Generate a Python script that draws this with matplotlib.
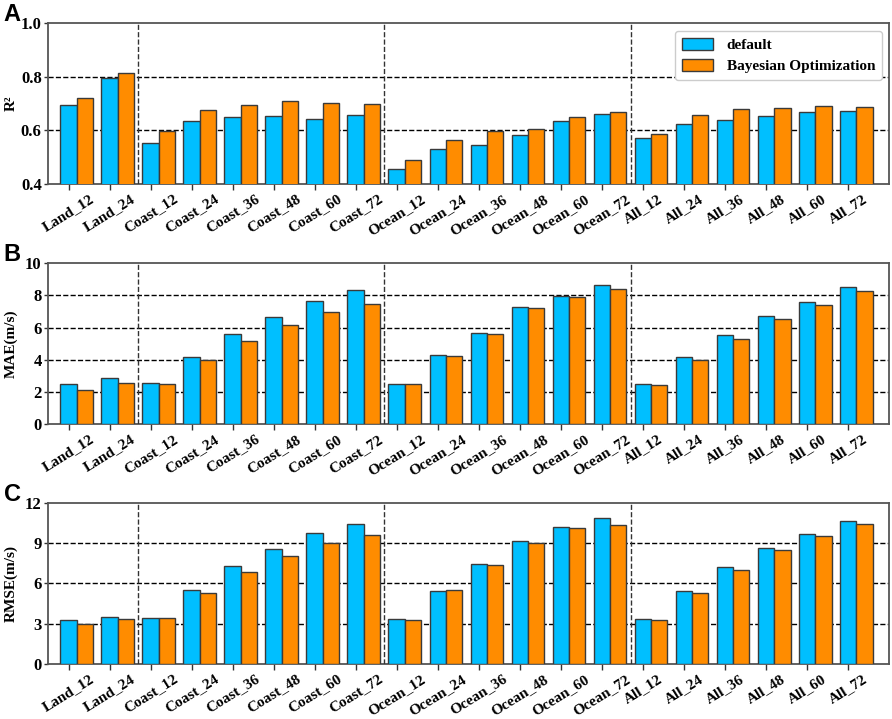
import matplotlib
matplotlib.use("Agg")
import matplotlib.pyplot as plt
import numpy as np

categories = ["Land_12", "Land_24",
              "Coast_12", "Coast_24", "Coast_36", "Coast_48", "Coast_60", "Coast_72",
              "Ocean_12", "Ocean_24", "Ocean_36", "Ocean_48", "Ocean_60", "Ocean_72",
              "All_12", "All_24", "All_36", "All_48", "All_60", "All_72"]

r2_default = [0.693, 0.796, 0.553, 0.635, 0.649, 0.654, 0.644, 0.658,
              0.457, 0.532, 0.547, 0.581, 0.634, 0.661,
              0.571, 0.622, 0.638, 0.652, 0.669, 0.673]
r2_bayes = [0.722, 0.815, 0.598, 0.675, 0.696, 0.708, 0.701, 0.700,
            0.490, 0.566, 0.599, 0.604, 0.651, 0.669,
            0.586, 0.658, 0.679, 0.683, 0.692, 0.686]

mae_default = [2.47, 2.84, 2.53, 4.15, 5.58, 6.68, 7.63, 8.32,
               2.51, 4.27, 5.64, 7.26, 7.97, 8.63,
               2.47, 4.15, 5.54, 6.74, 7.61, 8.49]
mae_bayes = [2.10, 2.55, 2.52, 3.98, 5.19, 6.14, 6.95, 7.49,
             2.49, 4.25, 5.58, 7.20, 7.90, 8.42,
             2.45, 3.98, 5.27, 6.51, 7.41, 8.24]

rmse_default = [3.31, 3.48, 3.46, 5.50, 7.29, 8.58, 9.73, 10.42,
                3.33, 5.47, 7.44, 9.15, 10.22, 10.85,
                3.38, 5.47, 7.26, 8.66, 9.65, 10.65]
rmse_bayes = [2.97, 3.33, 3.46, 5.30, 6.87, 8.03, 9.03, 9.58,
              3.26, 5.50, 7.39, 9.03, 10.10, 10.32,
              3.28, 5.27, 6.97, 8.46, 9.55, 10.42]

series_names = ["default", "Bayesian Optimization"]
group_bounds = [1.7, 7.7, 13.7]

panels = [
    ("A", "R²", r2_default, r2_bayes, (0.4, 1.0), [0.4, 0.6, 0.8, 1.0], ["0.4", "0.6", "0.8", "1.0"]),
    ("B", "MAE(m/s)", mae_default, mae_bayes, (0, 10), [0, 2, 4, 6, 8, 10], ["0", "2", "4", "6", "8", "10"]),
    ("C", "RMSE(m/s)", rmse_default, rmse_bayes, (0, 12), [0, 3, 6, 9, 12], ["0", "3", "6", "9", "12"]),
]

serif = ["Liberation Serif", "DejaVu Serif"]
blue = "#00BFFF"
orange = "#FF8C00"
edge = "#3a3a3a"

fig = plt.figure(figsize=(8.92, 7.19), dpi=100)
left, width = 0.0538, 0.9428
bottoms = [0.744, 0.410, 0.0765]
height = 0.224

x = np.arange(len(categories))
w = 0.4

for (letter, ylabel, d, b, ylim, yt, ytl), bot in zip(panels, bottoms):
    ax = fig.add_axes([left, bot, width, height])
    ax.bar(x, d, width=w, color=blue, edgecolor=edge, linewidth=1.0, zorder=3, label=series_names[0])
    ax.bar(x + w, b, width=w, color=orange, edgecolor=edge, linewidth=1.0, zorder=3, label=series_names[1])
    ax.set_xlim(-0.5, 20.0)
    ax.set_ylim(*ylim)
    ax.set_yticks(yt)
    ax.set_yticklabels(ytl, fontfamily=serif, fontweight="bold", fontsize=12)
    ax.set_xticks(x)
    ax.set_xticklabels(categories, rotation=32, ha="center", fontfamily=serif,
                       fontweight="bold", fontsize=11)
    for t in yt[1:-1]:
        ax.axhline(t, color="black", linestyle="--", linewidth=1.0, zorder=2)
    for gb in group_bounds:
        ax.axvline(gb, color="#333333", linestyle="--", linewidth=1.0, zorder=4)
    ax.set_ylabel(ylabel, fontfamily=serif, fontweight="bold", fontsize=11)
    ax.yaxis.set_label_coords(-0.036, 0.5)
    for s in ax.spines.values():
        s.set_color("#555555")
        s.set_linewidth(1.3)
    ax.tick_params(axis="y", direction="out", length=3, width=1, color="#333333", pad=1.5)
    ax.tick_params(axis="x", direction="out", length=4, width=1, color="#333333", pad=2)
    fig.text(0.004, bot + height + 0.003, letter, fontfamily=["Liberation Sans", "DejaVu Sans"],
             fontweight="bold", fontsize=17, va="baseline", ha="left")
    if letter == "A":
        leg = ax.legend(loc="upper right", prop={"family": serif, "weight": "bold", "size": 11},
                        frameon=True, fancybox=True, edgecolor="#cccccc", framealpha=1.0,
                        borderpad=0.45, handlelength=2.0, handleheight=0.8, handletextpad=0.9,
                        labelspacing=0.45, borderaxespad=0.0,
                        bbox_to_anchor=(0.9917, 0.95))
        leg.set_zorder(5)

fig.savefig("out.png", dpi=100)
